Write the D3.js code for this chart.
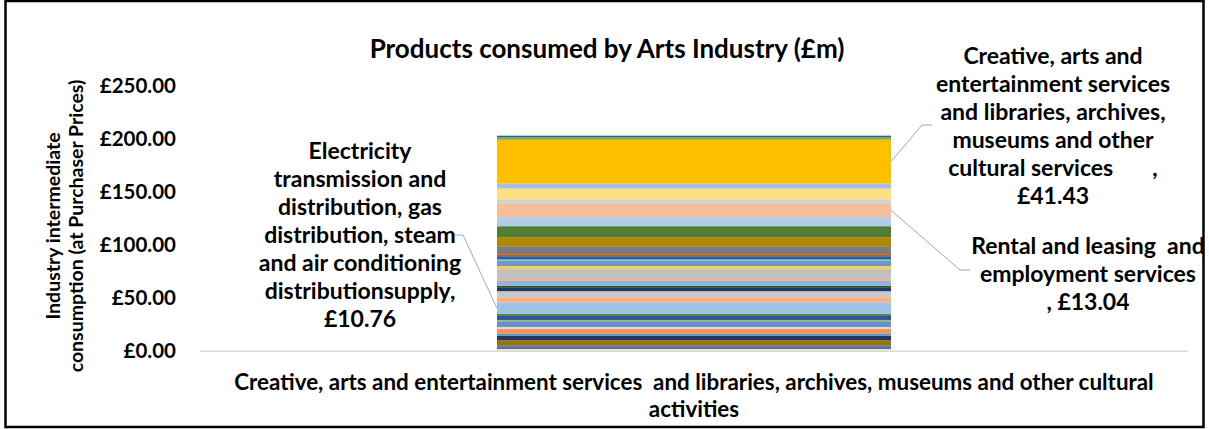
<!DOCTYPE html>
<html><head><meta charset="utf-8">
<script src="https://cdn.jsdelivr.net/npm/d3@7"></script>
<style>
body{margin:0;background:#fff}
text{font-family:Lato,'Liberation Sans',sans-serif;font-weight:700;fill:#000;white-space:pre}
</style>
</head><body><svg id="c" width="1209" height="429"></svg>
<script>
// ---- data ----
const category = ["Creative, arts and entertainment services  and libraries, archives, museums and other cultural activities"];
const categoryLines = ["Creative, arts and entertainment services  and libraries, archives, museums and other cultural", "activities"];
const chartTitle = "Products consumed by Arts Industry (£m)";
const yTitleLines = ["Industry intermediate", "consumption (at Purchaser Prices)"];
const yTicks = [0, 50, 100, 150, 200, 250];
// stacked segments, bottom to top (£m)
const segmentValues = [1.6, 1.9, 1.9, 4.4, 4.1, 1.9, 5.0, 1.6, 5.4, 1.2, 3.8, 1.9, 10.76, 5.0, 5.7, 3.1, 1.9, 4.7, 1.9, 9.2, 2.8, 5.0, 1.3, 3.1, 1.9, 7.5, 8.5, 10.4, 8.5, 13.04, 3.8, 10.1, 4.7, 41.43, 2.2, 1.6];
const segmentNames = segmentValues.map((v, i) => "Product " + (i + 1));
segmentNames[12] = "Electricity transmission and distribution, gas distribution, steam and air conditioning distributionsupply";
segmentNames[29] = "Rental and leasing  and employment services";
segmentNames[33] = "Creative, arts and entertainment services and libraries, archives, museums and other cultural services";
// labelled segments and their wrapped label text
const labelledIndex = [12, 29, 33];
const labelLines = [
  ["Electricity", "transmission and", "distribution, gas", "distribution, steam", "and air conditioning", "distributionsupply,"],
  ["Rental and leasing  and", "employment services"],
  ["Creative, arts and", "entertainment services", "and libraries, archives,", "museums and other", "cultural services       ,"]
];
const valuePrefix = ["", ", ", ""];

// ---- styles ----
const palette = ["#FFE699", "#4472C4", "#808080", "#9C7400", "#203864", "#5B9BD5", "#F1975A", "#D9D9D9", "#698ED0", "#8CC168", "#2F5597", "#548235", "#9DC3E6", "#F4B183", "#C9C9C9", "#203864", "#375623", "#8FB4E3", "#F4B183", "#BFBFBF", "#FFD243", "#7094D4", "#8CC6A8", "#2A5FA0", "#C55A11", "#7B7B7B", "#B38600", "#507E32", "#B0CDEA", "#F5BD98", "#D0D0D0", "#FFDF80", "#A9BEE6", "#FFC000", "#7FAE42", "#2E5F8A"];

const svg = d3.select("#c");
const plot = {left: 200, right: 1188, top: 85.7, bottom: 350.7};

svg.append("rect").attr("x", 5.5).attr("y", 1).attr("width", 1198).attr("height", 426)
  .attr("fill", "#fff").attr("stroke", "#000").attr("stroke-width", 2.5);

const x = d3.scaleBand().domain(category).range([plot.left, plot.right]).paddingInner(0.6).paddingOuter(0.3);
const y = d3.scaleLinear().domain([0, 250]).range([plot.bottom, plot.top]);

const keys = segmentValues.map((v, i) => i);
const row = {cat: category[0]};
keys.forEach(k => row[k] = segmentValues[k]);
const series = d3.stack().keys(keys)([row]);

// bars
const bw = 394;
const bx = x(category[0]) + x.bandwidth() / 2 - bw / 2;
svg.append("g").selectAll("rect").data(series).join("rect")
  .attr("x", bx).attr("width", bw)
  .attr("y", d => y(d[0][1])).attr("height", d => y(d[0][0]) - y(d[0][1]))
  .attr("fill", (d, i) => palette[i]);

// axis line
svg.append("line").attr("x1", plot.left).attr("x2", plot.right)
  .attr("y1", plot.bottom + 0.5).attr("y2", plot.bottom + 0.5)
  .attr("stroke", "#D9D9D9").attr("stroke-width", 1.5);

// y tick labels
const yAxis = d3.axisLeft(y).tickValues(yTicks).tickSize(0).tickPadding(0).tickFormat(d => "£" + d3.format(".2f")(d));
const ya = svg.append("g").attr("transform", "translate(176,0)").call(yAxis);
ya.select(".domain").remove();
ya.selectAll("text").attr("font-size", 20.5).style("font-family", "Lato").style("font-weight", 700).attr("fill", "#000");

// y title
yTitleLines.forEach((t, i) => {
  svg.append("text").attr("transform", `translate(${52 + i * 23},226) rotate(-90)`)
    .attr("text-anchor", "middle").attr("dominant-baseline", "central")
    .attr("font-size", 19.5).text(t);
});

// title
svg.append("text").attr("x", 607).attr("y", 48).attr("text-anchor", "middle")
  .attr("dominant-baseline", "central").attr("font-size", 26).text(chartTitle);

// category label
categoryLines.forEach((t, i) => {
  svg.append("text").attr("x", x(category[0]) + x.bandwidth() / 2).attr("y", 381 + i * 27)
    .attr("text-anchor", "middle").attr("dominant-baseline", "central")
    .attr("font-size", 22.4).text(t);
});

// data labels with leader lines
const labelPos = [
  {cx: 360, y0: 150, side: "left", elbow: [463, 235], end: 455},
  {cx: 1088, y0: 245, side: "right", elbow: [960, 270], end: 970},
  {cx: 1053, y0: 55, side: "right", elbow: [922, 125], end: 932}
];
labelledIndex.forEach((idx, j) => {
  const p = labelPos[j];
  const lines = labelLines[j].slice();
  lines.push(valuePrefix[j] + "£" + segmentValues[idx].toFixed(2));
  const g = svg.append("g");
  lines.forEach((t, i) => {
    g.append("text").attr("x", p.cx).attr("y", p.y0 + i * 28)
      .attr("text-anchor", "middle").attr("dominant-baseline", "central")
      .attr("font-size", 23).text(t);
  });
  const s = series[idx][0];
  const midY = y((s[0] + s[1]) / 2);
  const sx = p.side === "left" ? bx : bx + bw;
  svg.append("polyline").attr("points", `${sx},${midY} ${p.elbow[0]},${p.elbow[1]} ${p.end},${p.elbow[1]}`)
    .attr("fill", "none").attr("stroke", "#A6A6A6").attr("stroke-width", 1);
});
</script>
</body></html>
